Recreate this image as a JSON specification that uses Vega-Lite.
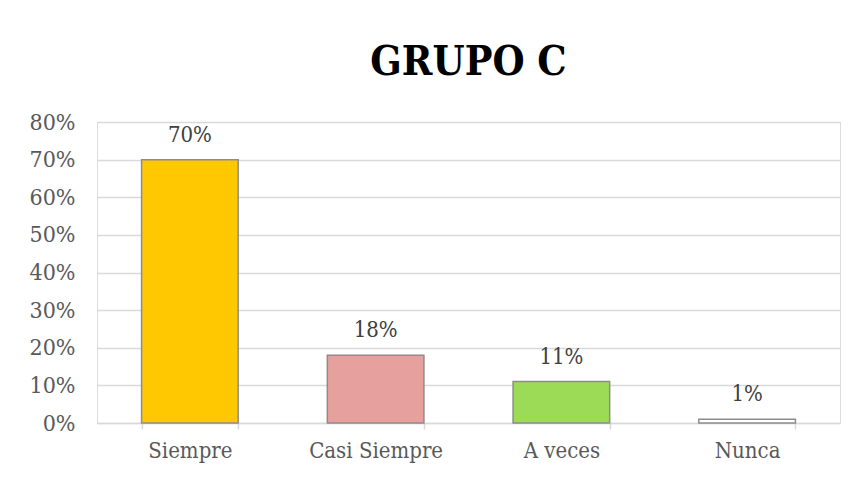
{
  "$schema": "https://vega.github.io/schema/vega-lite/v6.json",
  "autosize": {"type": "none"},
  "padding": {"left": 97, "top": 122, "right": 17, "bottom": 55},
  "width": 743,
  "height": 301,
  "background": "white",
  "title": {
    "text": "GRUPO C",
    "font": "DejaVu Serif Condensed, DejaVu Serif",
    "fontSize": 41,
    "fontWeight": "bold",
    "color": "#000000",
    "anchor": "middle",
    "offset": 27
  },
  "data": {
    "values": [
      {"categoria": "Siempre", "valor": 0.70, "etiqueta": "70%"},
      {"categoria": "Casi Siempre", "valor": 0.18, "etiqueta": "18%"},
      {"categoria": "A veces", "valor": 0.11, "etiqueta": "11%"},
      {"categoria": "Nunca", "valor": 0.01, "etiqueta": "1%"}
    ]
  },
  "encoding": {
    "x": {
      "field": "categoria",
      "type": "nominal",
      "sort": null,
      "scale": {"paddingInner": 0.48, "paddingOuter": 0.24},
      "axis": {
        "title": null,
        "labelAngle": 0,
        "labelFont": "DejaVu Serif Condensed, DejaVu Serif",
        "labelFontSize": 22,
        "labelColor": "#595959",
        "labelPadding": 11,
        "domainColor": "#D9D9D9",
        "domainWidth": 1.5,
        "tickColor": "#D9D9D9",
        "tickSize": 6,
        "tickWidth": 1.5,
        "tickBand": "extent",
        "grid": false
      }
    },
    "y": {
      "field": "valor",
      "type": "quantitative",
      "scale": {"domain": [0, 0.8], "nice": false},
      "axis": {
        "title": null,
        "format": ".0%",
        "values": [0, 0.1, 0.2, 0.3, 0.4, 0.5, 0.6, 0.7, 0.8],
        "labelFont": "DejaVu Serif Condensed, DejaVu Serif",
        "labelFontSize": 23,
        "labelColor": "#595959",
        "labelPadding": 22,
        "domain": false,
        "ticks": false,
        "grid": true,
        "gridColor": "#D9D9D9",
        "gridWidth": 1.5
      }
    }
  },
  "layer": [
    {
      "mark": {"type": "bar", "stroke": "#8C8C8C", "strokeWidth": 1.5},
      "encoding": {
        "color": {
          "field": "categoria",
          "type": "nominal",
          "scale": {
            "domain": ["Siempre", "Casi Siempre", "A veces", "Nunca"],
            "range": ["#FFC800", "#E6A09E", "#9BDB55", "#FFFFFF"]
          },
          "legend": null
        }
      }
    },
    {
      "mark": {
        "type": "text",
        "baseline": "bottom",
        "dy": -13,
        "font": "DejaVu Serif Condensed, DejaVu Serif",
        "fontSize": 22,
        "color": "#404040"
      },
      "encoding": {"text": {"field": "etiqueta"}}
    }
  ]
}
